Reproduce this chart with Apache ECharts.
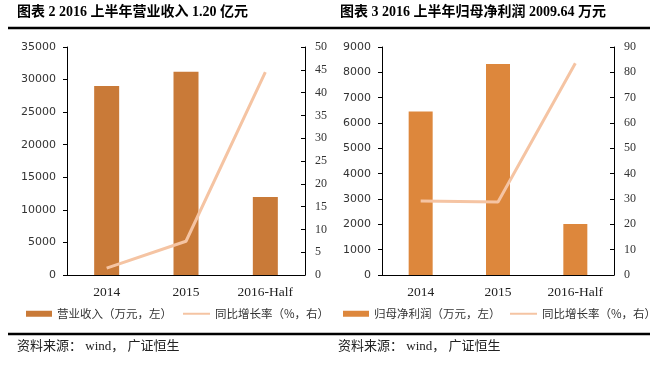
<!DOCTYPE html>
<html>
<head>
<meta charset="utf-8">
<script src="https://cdn.jsdelivr.net/npm/echarts@6/dist/echarts.min.js"></script>
<style>html,body{margin:0;padding:0;background:#fff;}#c{width:671px;height:374px;}</style>
</head>
<body>
<div id="c"></div>
<script>
var categories = ['2014', '2015', '2016-Half'];
var revenue = [29000, 31200, 11960];
var revenueGrowth = [1.5, 7.4, 44.5];
var profit = [6450, 8330, 2009.64];
var profitGrowth = [29.2, 28.8, 83.6];
var leftTicks = {max: 35000, step: 5000};
var leftRightTicks = {max: 50, step: 5};
var rightTicks = {max: 9000, step: 1000};
var rightRightTicks = {max: 90, step: 10};

var serif = '"Liberation Serif", "Noto Sans CJK SC"';
var sans = '"DejaVu Sans", "Noto Sans CJK SC"';
var revName = '营业收入（万元，左）';
var profName = '归母净利润（万元，左）';
var growName = '同比增长率（%，右）';
var barColL = '#C97A38';
var barColR = '#DD873C';
var lineCol = '#F5C4A3';

function yAx(grid, pos, t, font, inside, margin) {
  return {
    gridIndex: grid, type: 'value', position: pos, min: 0, max: t.max, interval: t.step,
    splitLine: {show: false},
    axisLine: {show: true, lineStyle: {color: '#000', width: 1}},
    axisTick: {show: true, inside: inside, length: 4, lineStyle: {color: '#000'}},
    axisLabel: {fontFamily: font, fontSize: font === serif ? 12 : 11, color: '#333', margin: margin,
      formatter: function (v) { return String(v); }}
  };
}
function xAx(grid) {
  return {
    gridIndex: grid, type: 'category', data: categories,
    axisTick: {show: false},
    axisLine: {lineStyle: {color: '#000', width: 1}},
    axisLabel: {fontFamily: serif, fontSize: 13.5, color: '#222', margin: 11}
  };
}
function leg(name, left, w, h) {
  return {
    data: [{name: name, icon: 'rect'}], left: left, top: 308, itemWidth: w, itemHeight: h,
    textStyle: {fontFamily: '"Noto Sans CJK SC"', fontSize: 11.5, color: '#333'},
    selectedMode: false, padding: 0
  };
}

var chart = echarts.init(document.getElementById('c'), null, {renderer: 'canvas'});
chart.setOption({
  animation: false,
  backgroundColor: '#fff',
  grid: [
    {left: 67, top: 47, width: 238, height: 228},
    {left: 382, top: 47, width: 232, height: 228}
  ],
  xAxis: [xAx(0), xAx(1)],
  yAxis: [
    yAx(0, 'left', leftTicks, sans, false, 11),
    yAx(0, 'right', leftRightTicks, serif, true, 10),
    yAx(1, 'left', rightTicks, sans, false, 11),
    yAx(1, 'right', rightRightTicks, serif, true, 10)
  ],
  legend: [
    leg(revName, 26, 26, 6),
    leg(growName, 183, 27, 2),
    leg(profName, 343, 26, 6),
    leg(growName, 510, 27, 2)
  ],
  series: [
    {name: revName, type: 'bar', xAxisIndex: 0, yAxisIndex: 0, data: revenue, barWidth: 25, itemStyle: {color: barColL}},
    {name: growName, type: 'line', xAxisIndex: 0, yAxisIndex: 1, data: revenueGrowth, showSymbol: false, symbol: 'none', lineStyle: {color: lineCol, width: 3}, itemStyle: {color: lineCol}},
    {name: profName, type: 'bar', xAxisIndex: 1, yAxisIndex: 2, data: profit, barWidth: 24, itemStyle: {color: barColR}},
    {name: growName, type: 'line', xAxisIndex: 1, yAxisIndex: 3, data: profitGrowth, showSymbol: false, symbol: 'none', lineStyle: {color: lineCol, width: 3}, itemStyle: {color: lineCol}}
  ],
  graphic: [
    {type: 'text', left: 17, top: 5, style: {text: '图表 2 2016 上半年营业收入 1.20 亿元', font: 'bold 14px ' + serif, fill: '#000'}},
    {type: 'text', left: 340, top: 5, style: {text: '图表 3 2016 上半年归母净利润 2009.64 万元', font: 'bold 14px ' + serif, fill: '#000'}},
    {type: 'line', shape: {x1: 8, y1: 28, x2: 650, y2: 28}, style: {stroke: '#000', lineWidth: 2.5}},
    {type: 'line', shape: {x1: 8, y1: 334, x2: 650, y2: 334}, style: {stroke: '#000', lineWidth: 2.5}},
    {type: 'text', left: 17, top: 340, style: {text: '资料来源： wind， 广证恒生', font: '13px ' + serif, fill: '#222'}},
    {type: 'text', left: 338, top: 340, style: {text: '资料来源： wind， 广证恒生', font: '13px ' + serif, fill: '#222'}}
  ]
});
</script>
</body>
</html>
